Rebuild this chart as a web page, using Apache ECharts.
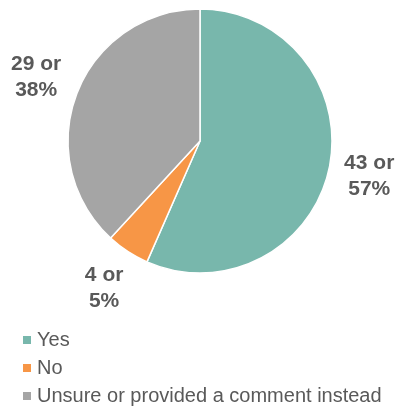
<!DOCTYPE html>
<html>
<head>
<meta charset="utf-8">
<script src="https://cdn.jsdelivr.net/npm/echarts@6/dist/echarts.min.js"></script>
<style>html,body{margin:0;padding:0;background:#fff;}#c{width:399px;height:410px;}</style>
</head>
<body>
<div id="c"></div>
<script>
const categories = ['Yes', 'No', 'Unsure or provided a comment instead'];
const counts = [43, 4, 29];
const percents = [57, 5, 38];
const colors = ['#78b7ac', '#f79646', '#a5a5a5'];

const CX = 200, CY = 141, R = 132, GAP = 11;
const total = counts.reduce((a, b) => a + b, 0);
function midAngle(i) {
  let before = 0;
  for (let k = 0; k < i; k++) before += counts[k];
  return ((before + counts[i] / 2) / total) * Math.PI * 2;
}

const chart = echarts.init(document.getElementById('c'));
chart.setOption({
  animation: false,
  backgroundColor: '#fff',
  legend: {
    orient: 'vertical',
    left: 21,
    top: 329,
    padding: 0,
    icon: 'rect',
    itemWidth: 10,
    itemHeight: 10,
    itemGap: 6,
    textStyle: { fontFamily: 'Liberation Sans, Arial', fontSize: 20, color: '#595959', lineHeight: 22 },
    data: categories
  },
  series: [{
    type: 'pie',
    center: [CX, CY],
    radius: [0, R],
    startAngle: 90,
    clockwise: true,
    avoidLabelOverlap: false,
    itemStyle: { borderColor: '#fff', borderWidth: 1.5 },
    label: {
      show: true,
      position: 'outside',
      overflow: 'none',
      alignTo: 'none',
      fontFamily: 'Liberation Sans, Arial',
      fontWeight: 'bold',
      fontSize: 21,
      lineHeight: 26,
      color: '#595959',
      align: 'center',
      formatter: p => counts[p.dataIndex] + ' or\n' + percents[p.dataIndex] + '%'
    },
    labelLine: { show: false },
    labelLayout: function (params) {
      const a = midAngle(params.dataIndex);
      const s = Math.sin(a), c = Math.cos(a);
      const w = params.labelRect.width, h = params.labelRect.height;
      const d = R + GAP + Math.abs(s) * w / 2 + Math.abs(c) * h / 2;
      return { x: CX + d * s, y: CY - d * c, align: 'center', verticalAlign: 'middle' };
    },
    data: categories.map((n, i) => ({ name: n, value: counts[i], itemStyle: { color: colors[i] } }))
  }]
});
</script>
</body>
</html>
